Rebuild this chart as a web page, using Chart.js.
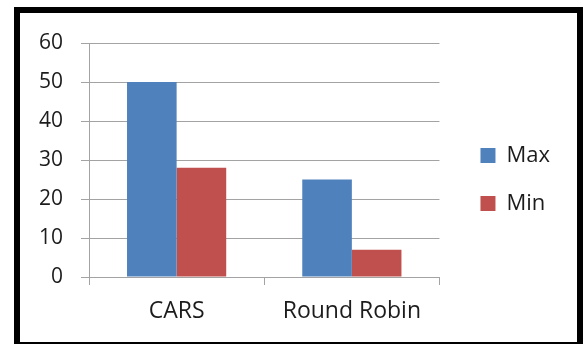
<!DOCTYPE html>
<html>
<head>
<meta charset="utf-8">
<script src="https://cdn.jsdelivr.net/npm/chart.js@4/dist/chart.umd.min.js"></script>
<style>
  html, body { margin: 0; padding: 0; background: #ffffff; }
  body { width: 585px; height: 344px; position: relative; overflow: hidden; }
  #frame {
    position: absolute; left: 14px; top: 7px;
    width: 557px; height: 329px;
    border: 6px solid #000000;
    background: #ffffff;
  }
  #wrap { position: absolute; left: 0; top: 0; width: 585px; height: 344px; }
</style>
</head>
<body>
<div id="frame"></div>
<div id="wrap"><canvas id="chart" width="585" height="344"></canvas></div>
<script>
// Scheduler comparison: maximum and minimum values per algorithm
const categories = ['CARS', 'Round Robin'];
const maxValues = [50, 25];
const minValues = [28, 7];
const seriesNames = ['Max', 'Min'];
const yMin = 0;
const yMax = 60;
const yStep = 10;

const textColor = '#1c1c1c';
const gridColor = '#a3a3a3';
const fontFamily = '"Open Sans", "Noto Sans", sans-serif';

// Nudge the legend block into the right margin without resizing the plot
const legendOffset = {
  id: 'legendOffset',
  afterLayout(chart, args, opts) {
    const lg = chart.legend;
    if (!lg) return;
    lg.left += opts.dx; lg.right += opts.dx;
    lg.top += opts.dy; lg.bottom += opts.dy;
  }
};

new Chart(document.getElementById('chart'), {
  type: 'bar',
  data: {
    labels: categories,
    datasets: [
      { label: seriesNames[0], data: maxValues, backgroundColor: '#4f81bd', borderWidth: 0 },
      { label: seriesNames[1], data: minValues, backgroundColor: '#c0504d', borderWidth: 0 }
    ]
  },
  plugins: [legendOffset],
  options: {
    responsive: false,
    animation: false,
    devicePixelRatio: 1,
    layout: { padding: { left: 20, top: 43, right: 40, bottom: 24 } },
    datasets: { bar: { categoryPercentage: 0.566, barPercentage: 1.0 } },
    plugins: {
      tooltip: { enabled: false },
      legendOffset: { dx: 15, dy: -2 },
      legend: {
        position: 'right',
        align: 'center',
        labels: {
          boxWidth: 15,
          boxHeight: 15,
          padding: 26,
          color: textColor,
          font: { family: fontFamily, size: 22 }
        }
      }
    },
    scales: {
      x: {
        grid: { display: true, drawOnChartArea: false, offset: true, tickLength: 8, color: gridColor, lineWidth: 1 },
        border: { display: true, color: gridColor, width: 1 },
        ticks: { color: textColor, font: { family: fontFamily, size: 23 }, padding: 13, maxRotation: 0 },
        afterFit: (s) => { s.height = 43; }
      },
      y: {
        min: yMin,
        max: yMax,
        grid: { color: gridColor, lineWidth: 1, tickLength: 8 },
        border: { display: true, color: gridColor, width: 1 },
        ticks: { stepSize: yStep, color: textColor, font: { family: fontFamily, size: 21 }, padding: 18 },
        afterFit: (s) => { s.width = 69; }
      }
    }
  }
});
</script>
</body>
</html>
